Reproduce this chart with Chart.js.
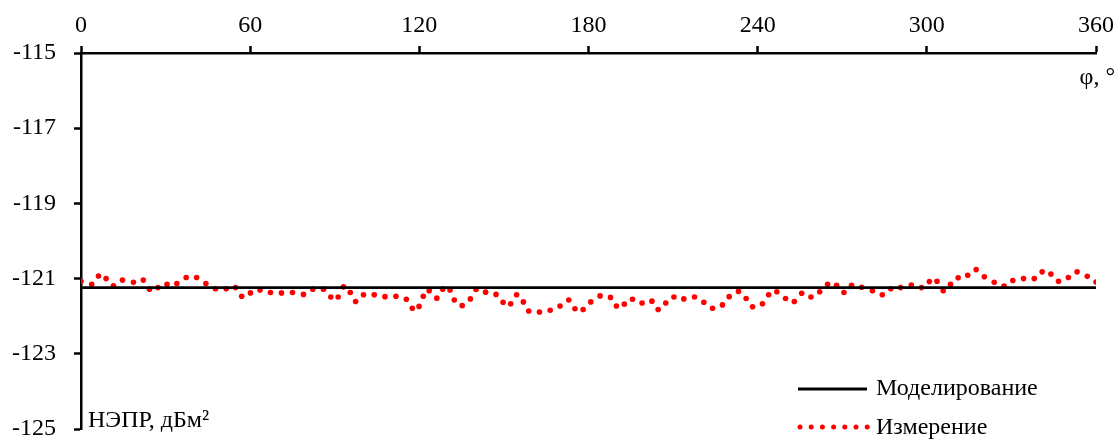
<!DOCTYPE html>
<html>
<head>
<meta charset="utf-8">
<script src="https://cdn.jsdelivr.net/npm/chart.js@4.4.1/dist/chart.umd.min.js"></script>
<style>
  html, body { margin: 0; padding: 0; background: #fff; }
  #wrap { width: 1120px; height: 441px; }
</style>
</head>
<body>
<div id="wrap"><canvas id="nepr_chart"></canvas></div>
<script>
// угол, град. и НЭПР, дБм2
var measAngle = [0, 3.8, 6.2, 8.9, 11.5, 14.7, 18.6, 22.1, 24.3, 27.3, 30.5, 34.0, 37.3, 41.0, 44.3, 47.7, 51.5, 54.8, 57.0, 60.1,
  63.5, 67.2, 71.1, 75.0, 78.9, 82.2, 86.0, 88.6, 91.2, 93.1, 95.5, 97.4, 100.2, 104.0, 107.8, 111.7, 115.4, 117.5, 119.9, 121.4,
  123.5, 126.2, 128.3, 130.9, 132.4, 135.2, 138.1, 140.1, 143.5, 147.2, 149.7, 152.4, 154.5, 156.9, 158.8, 162.6, 166.4, 169.9, 173.0, 175.2,
  178.1, 180.8, 184.1, 187.8, 189.9, 192.7, 195.6, 199.0, 202.5, 204.7, 207.4, 210.3, 213.8, 217.6, 220.9, 224.0, 227.5, 229.9, 233.2, 235.9,
  238.2, 241.7, 243.9, 246.8, 249.9, 253.0, 255.6, 258.9, 262.0, 264.8, 268.0, 270.6, 273.3, 276.9, 280.7, 284.2, 287.2, 290.7, 294.5, 298.1,
  300.9, 303.6, 305.8, 308.4, 311.1, 314.5, 317.5, 320.4, 323.9, 327.4, 330.5, 334.3, 338.1, 340.9, 344.0, 346.7, 350.2, 353.3, 356.9, 360];
var measValue = [-121.07, -121.15, -120.93, -121.00, -121.19, -121.04, -121.10, -121.04, -121.28, -121.24, -121.15, -121.13, -120.97, -120.97, -121.13, -121.27, -121.27, -121.24, -121.47, -121.38,
  -121.30, -121.37, -121.38, -121.37, -121.42, -121.28, -121.28, -121.49, -121.49, -121.22, -121.37, -121.61, -121.43, -121.43, -121.48, -121.47, -121.55, -121.79, -121.74, -121.47,
  -121.32, -121.52, -121.28, -121.30, -121.57, -121.72, -121.54, -121.29, -121.36, -121.42, -121.63, -121.67, -121.43, -121.62, -121.86, -121.89, -121.84, -121.73, -121.57, -121.80,
  -121.82, -121.62, -121.46, -121.50, -121.73, -121.68, -121.55, -121.65, -121.60, -121.82, -121.65, -121.49, -121.54, -121.49, -121.63, -121.79, -121.70, -121.48, -121.34, -121.53,
  -121.75, -121.67, -121.43, -121.35, -121.53, -121.61, -121.39, -121.49, -121.35, -121.15, -121.18, -121.37, -121.18, -121.23, -121.32, -121.43, -121.27, -121.24, -121.17, -121.24,
  -121.08, -121.07, -121.32, -121.15, -120.98, -120.91, -120.76, -120.95, -121.10, -121.20, -121.05, -121.00, -121.00, -120.82, -120.88, -121.07, -120.97, -120.82, -120.94, -121.09];
var modelAngle = [0, 360];
var modelValue = [-121.24, -121.24];

var xTicks = [0, 60, 120, 180, 240, 300, 360];
var yTicks = [-125, -123, -121, -119, -117, -115];

var seriesNames = ['Моделирование', 'Измерение'];
var xTitle = 'φ, °';
var yTitle = 'НЭПР, дБм²';

var fontFamily = '"Liberation Serif", "Times New Roman", serif';

function toPoints(xs, ys){
  return xs.map(function(x, i){ return {x: x, y: ys[i]}; });
}

// подписи осей и легенда внутри области графика
const labelsPlugin = {
  id: 'labelsPlugin',
  afterDraw(chart){
    const ctx = chart.ctx;
    const ds = chart.data.datasets;
    ctx.save();
    ctx.fillStyle = '#000';
    ctx.font = '24px ' + fontFamily;
    ctx.textBaseline = 'middle';
    ctx.textAlign = 'right';
    ctx.fillText(xTitle, 1115, 78);
    ctx.textAlign = 'left';
    ctx.fillText(yTitle, 88, 421);

    // легенда
    ctx.fillText(seriesNames[0], 876, 389);
    ctx.fillText(seriesNames[1], 876, 428);
    ctx.strokeStyle = ds[0].borderColor;
    ctx.lineWidth = ds[0].borderWidth;
    ctx.beginPath();
    ctx.moveTo(798, 389);
    ctx.lineTo(867, 389);
    ctx.stroke();
    ctx.fillStyle = ds[1].pointBackgroundColor;
    for (let i = 0; i < 7; i++) {
      ctx.beginPath();
      ctx.arc(800 + i * 11.2, 427, 2.5, 0, Math.PI * 2);
      ctx.fill();
    }
    ctx.restore();
  }
};

var ctx = document.getElementById('nepr_chart').getContext('2d');
var neprChart = new Chart(ctx, {
  type: 'scatter',
  plugins: [labelsPlugin],
  data: {
    datasets: [{
      label: seriesNames[0],
      data: toPoints(modelAngle, modelValue),
      showLine: true,
      borderColor: '#000',
      backgroundColor: '#000',
      borderWidth: 2.8,
      pointRadius: 0
    }, {
      label: seriesNames[1],
      data: toPoints(measAngle, measValue),
      showLine: false,
      pointRadius: 2.8,
      pointBorderWidth: 0,
      pointBackgroundColor: '#ff0000',
      pointBorderColor: '#ff0000'
    }]
  },
  options: {
    responsive: true,
    maintainAspectRatio: false,
    animation: false,
    layout: {
      padding: { left: 0, right: 24, top: 0, bottom: 12 }
    },
    scales: {
      x: {
        type: 'linear',
        position: 'top',
        min: 0,
        max: 360,
        afterFit: function(scale){ scale.height = 53; },
        afterBuildTicks: function(scale){ scale.ticks = xTicks.map(function(v){ return {value: v}; }); },
        grid: { drawOnChartArea: false, drawTicks: true, tickLength: 7, tickWidth: 2.5, color: '#000' },
        border: { display: true, color: '#000', width: 2.5 },
        ticks: {
          padding: 6,
          color: '#000',
          maxRotation: 0,
          font: { family: fontFamily, size: 24 }
        }
      },
      y: {
        min: -125,
        max: -115,
        afterFit: function(scale){
          scale.width = 81;
          scale.paddingTop = 0;
          scale.paddingBottom = 0;
        },
        afterBuildTicks: function(scale){ scale.ticks = yTicks.map(function(v){ return {value: v}; }); },
        grid: { drawOnChartArea: false, drawTicks: true, tickLength: 7, tickWidth: 2.5, color: '#000' },
        border: { display: true, color: '#000', width: 2.5 },
        ticks: {
          padding: 18,
          color: '#000',
          font: { family: fontFamily, size: 24 }
        }
      }
    },
    plugins: {
      legend: { display: false },
      title: { display: false },
      tooltip: { enabled: false }
    }
  }
});
</script>
</body>
</html>
